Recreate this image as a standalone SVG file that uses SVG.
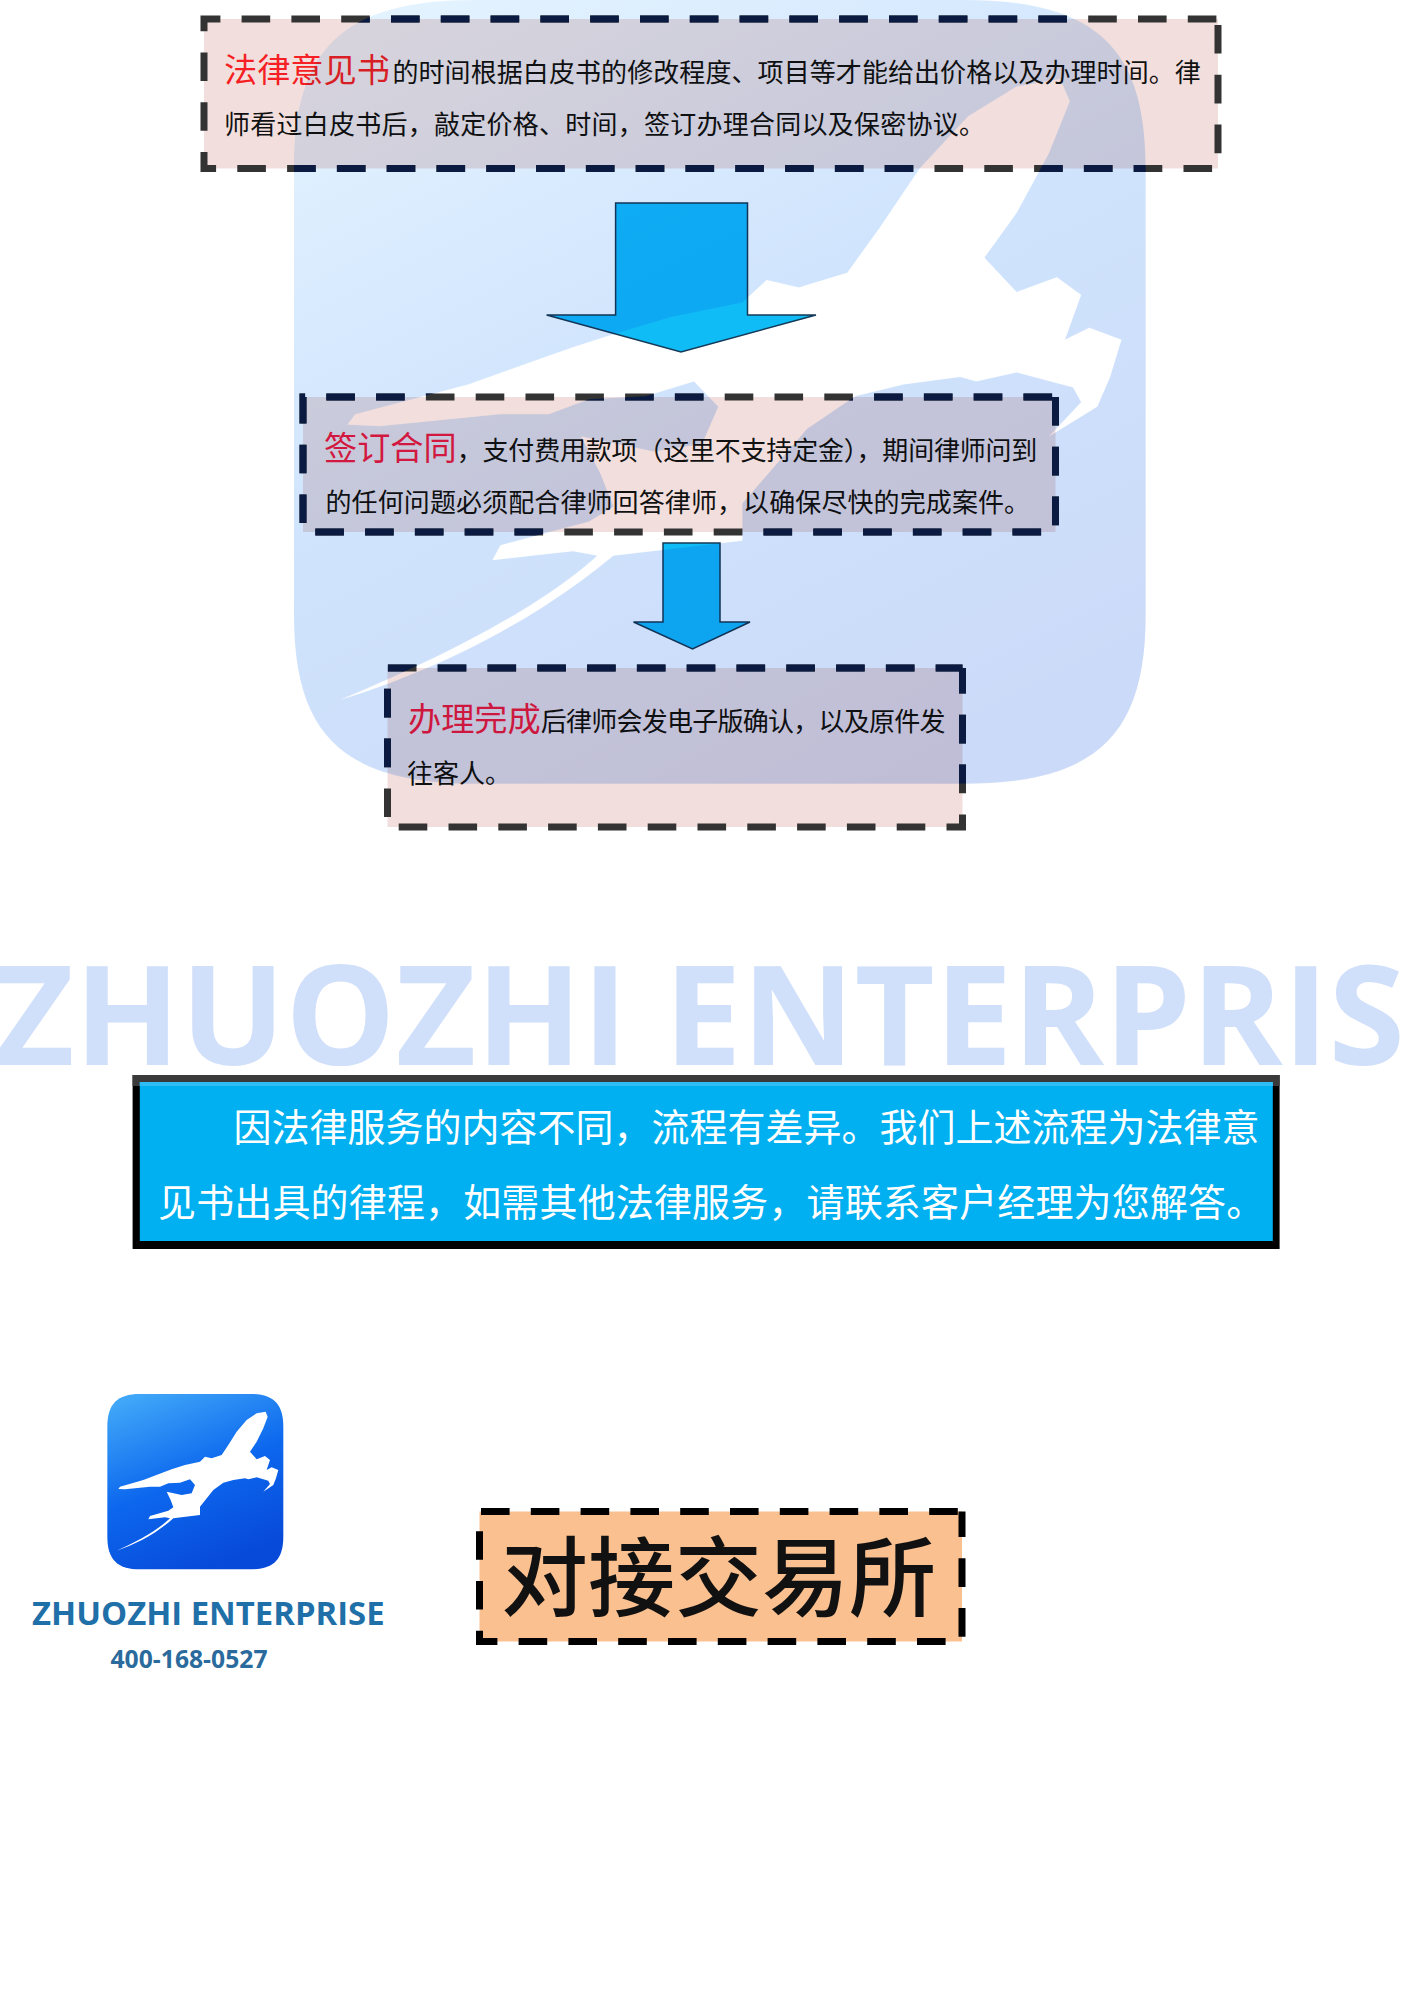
<svg xmlns="http://www.w3.org/2000/svg" width="1414" height="2000" viewBox="0 0 1414 2000">
<style>
.t{font-family:"Noto Sans CJK SC","Liberation Serif",serif;fill:#111}
.r{font-size:33.2px;fill:#f51f25}
.r2{font-size:33.2px;fill:#ff1a40}
.c{font-size:26px}
.w{font-size:38px;fill:#fff}
.fill{fill:#f2dfdd}
.d{fill:none;stroke-width:7;stroke-dasharray:28.6 21.2}
.g{stroke:#333}
.n{stroke:#0a1a40}
.en{font-family:"Open Sans","Liberation Sans",sans-serif;font-weight:700}
.ar{fill:#10bcf5;stroke:#143a58;stroke-width:1.5}
</style>
<defs>
<linearGradient id="wm" x1="0.2" y1="0" x2="0.75" y2="1"><stop offset="0" stop-color="#e2f2ff"/><stop offset="0.45" stop-color="#d0e4fd"/><stop offset="1" stop-color="#cbdaf8"/></linearGradient>
<linearGradient id="lg" x1="0.2" y1="0" x2="0.6" y2="1"><stop offset="0" stop-color="#3fa6f8"/><stop offset="0.5" stop-color="#0d68ee"/><stop offset="1" stop-color="#0749d8"/></linearGradient>
<path id="pl" d="M497,65L470,70L440,90L410,125L385,165L365,195L335,205L315,200L300,215L255,225L215,238L195,245L130,270L60,290L55,297L75,298L150,290L180,290L205,280L240,278L270,268L285,285L275,310L245,315L200,305L212,330L220,352L205,362L150,378L145,388L195,382L210,385C175,420 110,455 50,482C110,462 170,430 220,385L300,375L300,350L340,300L370,278L400,270L435,265L445,268L470,262L505,272L510,282L490,305L520,285L528,265L535,240L515,232L500,240L510,210L495,198L470,208L450,185L470,155L490,115L503,80Z"/>
<clipPath id="wc"><path clip-rule="evenodd" transform="matrix(1.613,0,0,1.49,258.5,-18)" d="M135,12H437C520,12 550,45 550,125V425C550,505 520,538 437,538H135C52,538 22,505 22,425V125C22,45 52,12 135,12ZM497,65L470,70L440,90L410,125L385,165L365,195L335,205L315,200L300,215L255,225L215,238L195,245L130,270L60,290L55,297L75,298L150,290L180,290L205,280L240,278L270,268L285,285L275,310L245,315L200,305L212,330L220,352L205,362L150,378L145,388L195,382L210,385C175,420 110,455 50,482C110,462 170,430 220,385L300,375L300,350L340,300L370,278L400,270L435,265L445,268L470,262L505,272L510,282L490,305L520,285L528,265L535,240L515,232L500,240L510,210L495,198L470,208L450,185L470,155L490,115L503,80Z"/></clipPath>
<path id="b1" d="M1218,19V168.5H204V19H1218"/>
<path id="b2" d="M1055.5,397V532H303V397H1055.5"/>
<path id="b3" d="M962.5,668V827H387.5V668H962.5"/>
</defs>
<rect width="1414" height="2000" fill="#fff"/>
<g id="node-opinion">
<use href="#b1" class="fill"/>
<text class="t" y="81.5"><tspan class="r" x="224">法律意见书</tspan><tspan class="c" dx="2.5" letter-spacing="0.08">的时间根据白皮书的修改程度、项目等才能给出价格以及办理时间。律</tspan></text>
<text class="t c" x="224" y="134" letter-spacing="0.25">师看过白皮书后，敲定价格、时间，签订办理合同以及保密协议。</text>
<use href="#b1" class="d g" stroke-dashoffset="43.8"/>
</g>
<g id="node-contract">
<use href="#b2" class="fill"/>
<text class="t" y="460"><tspan class="r2" x="324">签订合同</tspan><tspan class="c" letter-spacing="-0.2">，支付费用款项（这里不支持定金），期间律师问到</tspan></text>
<text class="t c" x="325.5" y="512" letter-spacing="0.1">的任何问题必须配合律师回答律师，以确保尽快的完成案件。</text>
<use href="#b2" class="d g"/>
</g>
<g id="node-done">
<use href="#b3" class="fill"/>
<text class="t" y="731"><tspan class="r2" x="408">办理完成</tspan><tspan class="c" letter-spacing="-0.75">后律师会发电子版确认，以及原件发</tspan></text>
<text class="t c" x="407" y="783">往客人。</text>
<use href="#b3" class="d g" stroke-dashoffset="3"/>
</g>
<g id="connectors">
<path class="ar" d="M615.6,203H747.5V315H816L681,352L546.6,315H615.6Z"/>
<path class="ar" d="M663,543H720V622H750L692.5,649L633.5,622H663Z"/>
</g>
<g id="watermark" style="mix-blend-mode:multiply">
<path fill="url(#wm)" fill-rule="evenodd" transform="matrix(1.613,0,0,1.49,258.5,-18)" d="M135,12H437C520,12 550,45 550,125V425C550,505 520,538 437,538H135C52,538 22,505 22,425V125C22,45 52,12 135,12ZM497,65L470,70L440,90L410,125L385,165L365,195L335,205L315,200L300,215L255,225L215,238L195,245L130,270L60,290L55,297L75,298L150,290L180,290L205,280L240,278L270,268L285,285L275,310L245,315L200,305L212,330L220,352L205,362L150,378L145,388L195,382L210,385C175,420 110,455 50,482C110,462 170,430 220,385L300,375L300,350L340,300L370,278L400,270L435,265L445,268L470,262L505,272L510,282L490,305L520,285L528,265L535,240L515,232L500,240L510,210L495,198L470,208L450,185L470,155L490,115L503,80Z"/>
<text class="en" x="-6" y="1064.5" font-size="138" fill="#d0dffa" textLength="1411" lengthAdjust="spacingAndGlyphs">ZHUOZHI ENTERPRIS</text>
</g>
<g clip-path="url(#wc)">
<use href="#b1" class="d n" stroke-dashoffset="43.8"/>
<use href="#b2" class="d n"/>
<use href="#b3" class="d n" stroke-dashoffset="3"/>
</g>
<g id="node-note">
<rect x="132.6" y="1075" width="1147" height="174" fill="#000"/>
<rect x="132.6" y="1075" width="1147" height="11" fill="#3a3a3a"/>
<rect x="139.8" y="1082" width="1133" height="159" fill="#00b0f0"/>
<rect x="139.8" y="1082" width="1133" height="4" fill="#2ebdf5"/>
<text class="t w" x="233.5" y="1141">因法律服务的内容不同，流程有差异。我们上述流程为法律意</text>
<text class="t w" x="158" y="1215.5" letter-spacing="0.15">见书出具的律程，如需其他法律服务，请联系客户经理为您解答。</text>
</g>
<g id="node-logo">
<g transform="translate(100,1390) scale(0.3333)">
<path fill="url(#lg)" d="M120,12H452C520,12 550,42 550,110V440C550,508 520,538 452,538H120C52,538 22,508 22,440V110C22,42 52,12 120,12Z"/>
<use href="#pl" fill="#fff"/>
</g>
<text class="en" x="32" y="1625" font-size="33" fill="#1f6fa8" textLength="352.6" lengthAdjust="spacingAndGlyphs">ZHUOZHI ENTERPRISE</text>
<text class="en" x="110.5" y="1668" font-size="24.5" fill="#2a6a9c" textLength="157" lengthAdjust="spacingAndGlyphs">400-168-0527</text>
</g>
<g id="node-exchange">
<path fill="#fac090" d="M479.5,1511.5H962V1641.5H479.5Z"/>
<text class="t" x="501" y="1609.5" font-size="87" font-weight="500" fill="#000">对接交易所</text>
<path d="M962,1511.5V1641.5H479.5V1511.5H962" fill="none" stroke="#000" stroke-width="7" stroke-dasharray="28.6 21.2" stroke-dashoffset="3"/>
</g>
</svg>
